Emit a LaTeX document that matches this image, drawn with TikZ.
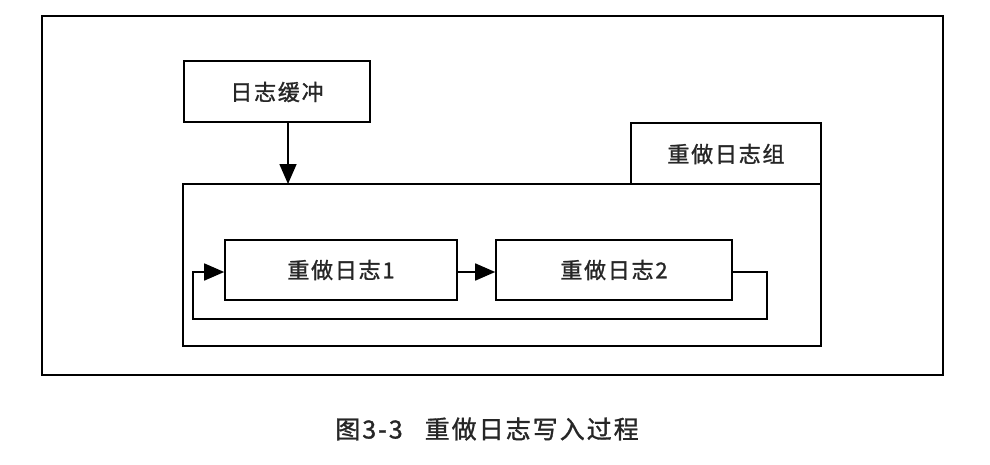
\documentclass[tikz,border=0pt]{standalone}
\usepackage{fontspec}
\setmainfont{Liberation Serif}
\newfontfamily\cjk[LetterSpace=8,FakeBold=1.2]{Noto Sans CJK SC}
\usetikzlibrary{arrows.meta}
\begin{document}
\begin{tikzpicture}[x=1pt,y=-1pt,
  line width=1.6pt,
  box/.style={draw, line width=1.6pt},
  lbl/.style={font=\cjk\fontsize{22}{26}\selectfont, text=black!85},
  arr/.style={-{Triangle[length=20pt,width=17pt]}, line width=1.6pt}]
\useasboundingbox (0,0) rectangle (990,464);
\fill[white] (0,0) rectangle (990,464);
% outer frame
\draw[box] (42,16) rectangle (943,375);
% buffer
\draw[box] (184,61) rectangle (370,122);
\node[lbl] (buf) at (277,92) {日志缓冲};
\coordinate (bufb) at (288,122);
% group
\draw[box] (631,123) rectangle (821,184);
\node[lbl] (grp) at (726,154) {重做日志组};
\draw[box] (183,184) rectangle (821,346);
\coordinate (grpt) at (288,184);
\draw[arr] (bufb) -- (grpt);
% logs
\node[box, minimum width=232pt, minimum height=60pt, inner sep=0pt, lbl] (l1) at (341,270) {重做日志1};
\node[box, minimum width=236pt, minimum height=60pt, inner sep=0pt, lbl] (l2) at (614,270) {重做日志2};
\draw[arr] (l1.east) ++(0,2) coordinate (a1) -- (a1 -| l2.west);
\coordinate (lpA) at (767,272);
\coordinate (lpB) at (767,319);
\coordinate (lpC) at (193,319);
\coordinate (lpD) at (193,272);
\draw[arr] (l2.east |- lpA) -- (lpA) -- (lpB) -- (lpC) -- (lpD) -- (lpD -| l1.west);
% caption
\node[font=\cjk\fontsize{25}{28}\selectfont, text=black!85] (cap) at (487,429) {图3-3\hspace{22pt}重做日志写入过程};
\end{tikzpicture}
\end{document}
